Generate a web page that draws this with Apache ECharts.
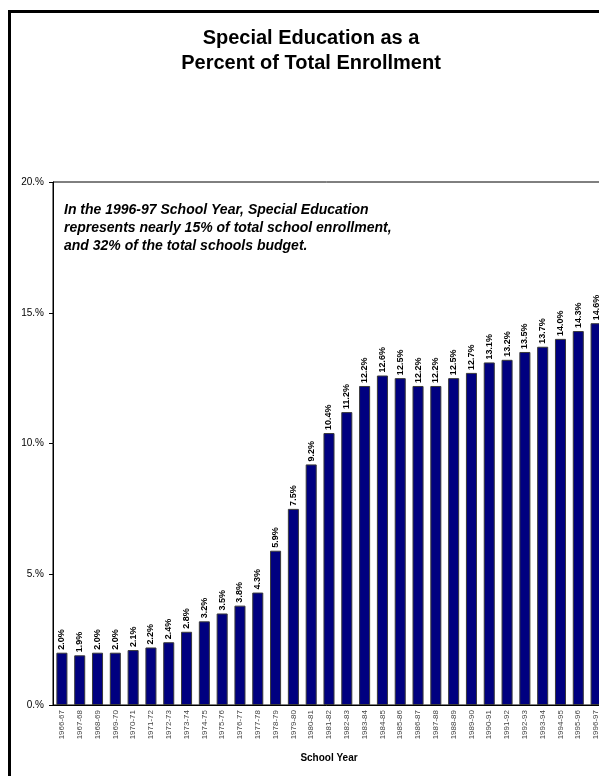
<!DOCTYPE html>
<html>
<head>
<meta charset="utf-8">
<script src="https://cdn.jsdelivr.net/npm/echarts@6/dist/echarts.min.js"></script>
<style>
  html, body { margin: 0; padding: 0; background: #fff; }
  #chart { width: 599px; height: 776px; }
</style>
</head>
<body>
<div id="chart"></div>
<script>
const schoolYears = [
  '1966-67', '1967-68', '1968-69', '1969-70', '1970-71', '1971-72', '1972-73', '1973-74',
  '1974-75', '1975-76', '1976-77', '1977-78', '1978-79', '1979-80', '1980-81', '1981-82',
  '1982-83', '1983-84', '1984-85', '1985-86', '1986-87', '1987-88', '1988-89', '1989-90',
  '1990-91', '1991-92', '1992-93', '1993-94', '1994-95', '1995-96', '1996-97'
]
const pctEnrollment = [
  2.0, 1.9, 2.0, 2.0, 2.1, 2.2, 2.4, 2.8,
  3.2, 3.5, 3.8, 4.3, 5.9, 7.5, 9.2, 10.4,
  11.2, 12.2, 12.6, 12.5, 12.2, 12.2, 12.5, 12.7,
  13.1, 13.2, 13.5, 13.7, 14.0, 14.3, 14.6
]
const noteLines = [
  'In the 1996-97 School Year, Special Education',
  'represents nearly 15% of total school enrollment,',
  'and 32% of the total schools budget.'
]

const chart = echarts.init(document.getElementById('chart'))

const option = {
  backgroundColor: '#fff',
  animation: false,
  title: {
    text: 'Special Education as a\nPercent of Total Enrollment',
    left: 306,
    textAlign: 'center',
    top: 21,
    textStyle: {
      fontFamily: 'Liberation Sans, Arial',
      fontSize: 20,
      fontWeight: 'bold',
      color: '#000',
      lineHeight: 25
    }
  },
  graphic: [
    {
      type: 'rect',
      shape: { x: 9.5, y: 11.5, width: 700, height: 900 },
      style: { fill: null, stroke: '#000', lineWidth: 3 },
      silent: true
    },
    {
      type: 'text',
      left: 64,
      top: 201,
      style: {
        text: noteLines.join('\n'),
        font: 'italic bold 14px "Liberation Sans", Arial',
        lineHeight: 18,
        fill: '#000'
      }
    }
  ],
  grid: {
    left: 53,
    top: 182,
    width: 552,
    height: 523,
    outerBoundsMode: 'none',
    show: true,
    borderColor: '#000',
    borderWidth: 1,
    backgroundColor: 'transparent'
  },
  xAxis: {
    type: 'category',
    data: schoolYears,
    name: 'School Year',
    nameLocation: 'middle',
    nameGap: 48,
    nameTextStyle: {
      fontFamily: 'Liberation Sans, Arial',
      fontSize: 10,
      fontWeight: 'bold',
      color: '#000'
    },
    axisLine: { lineStyle: { color: '#000', width: 1 } },
    axisTick: { length: 4, lineStyle: { color: '#000' } },
    axisLabel: {
      rotate: 90,
      interval: 0,
      margin: 5,
      fontFamily: 'Liberation Sans, Arial',
      fontSize: 8,
      color: '#444'
    }
  },
  yAxis: {
    type: 'value',
    min: 0,
    max: 20,
    interval: 5,
    axisLine: { show: true, lineStyle: { color: '#000', width: 1 } },
    axisTick: { show: true, length: 4, lineStyle: { color: '#000' } },
    splitLine: { show: false },
    axisLabel: {
      formatter: v => v + '.%',
      margin: 9,
      fontFamily: 'Liberation Sans, Arial',
      fontSize: 10,
      color: '#000'
    }
  },
  series: [
    {
      type: 'bar',
      data: pctEnrollment,
      barWidth: '62%',
      itemStyle: {
        color: '#000080',
        borderColor: '#3a3a3a',
        borderWidth: 1
      },
      label: {
        show: true,
        position: 'top',
        rotate: 90,
        align: 'left',
        verticalAlign: 'middle',
        distance: 3,
        formatter: p => p.value.toFixed(1) + '%',
        fontFamily: 'Liberation Sans Narrow, Liberation Sans, Arial',
        fontSize: 9,
        fontWeight: 'bold',
        color: '#000'
      }
    }
  ]
}

chart.setOption(option)

window.addEventListener('resize', () => {
  chart.resize()
})
</script>
</body>
</html>
